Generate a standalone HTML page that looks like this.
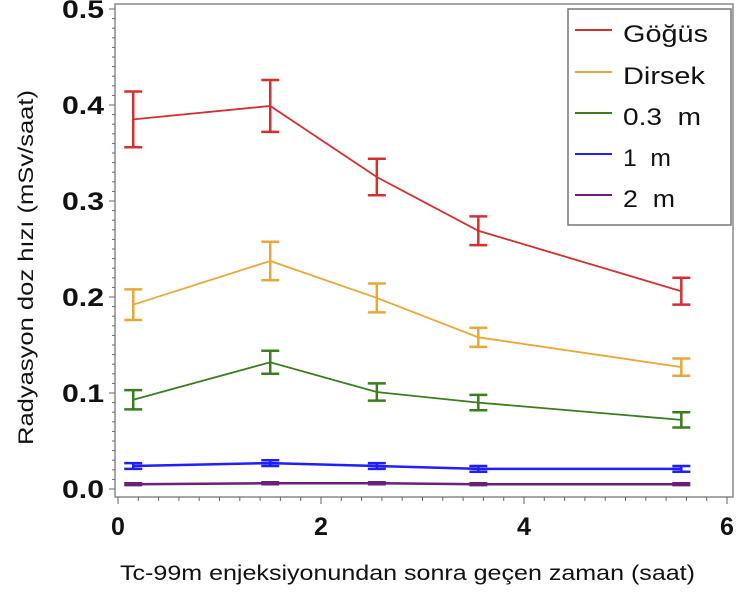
<!DOCTYPE html>
<html><head><meta charset="utf-8"><style>
html,body{margin:0;padding:0;background:#fff;}
svg{display:block;font-family:"Liberation Sans",sans-serif;}
</style></head><body>
<svg id="chart" width="740" height="595" viewBox="0 0 740 595">
</svg>
<script>
const xs = [0.15, 1.5, 2.55, 3.55, 5.55];
const seriesNames = ["Göğüs","Dirsek","0.3 m","1 m","2 m"];
const seriesColors = ["#d62f2f","#e8a838","#3a7d1e","#1e1eff","#6a1f7a"];
const gogus = [0.385, 0.399, 0.325, 0.269, 0.206];
const gogusErr = [0.029, 0.027, 0.019, 0.015, 0.014];
const dirsek = [0.192, 0.2375, 0.199, 0.158, 0.127];
const dirsekErr = [0.016, 0.02, 0.015, 0.01, 0.009];
const m03 = [0.093, 0.132, 0.101, 0.09, 0.072];
const m03Err = [0.01, 0.012, 0.009, 0.008, 0.008];
const m1 = [0.024, 0.027, 0.024, 0.021, 0.021];
const m1Err = [0.003, 0.003, 0.003, 0.003, 0.003];
const m2 = [0.005, 0.006, 0.006, 0.005, 0.005];
const m2Err = [0.001, 0.001, 0.001, 0.001, 0.001];
const yTicks = [0.0, 0.1, 0.2, 0.3, 0.4, 0.5];
const yTickLabels = ["0.0","0.1","0.2","0.3","0.4","0.5"];
const xTicks = [0, 2, 4, 6];
const xTickLabels = ["0","2","4","6"];

const svg = document.getElementById('chart');
const NS = 'http://www.w3.org/2000/svg';
const X = v => 118 + v * 101.5;
const Y = v => 489 - v * 960;
function mk(tag, attrs, parent){ const e=document.createElementNS(NS,tag); for(const k in attrs) e.setAttribute(k,attrs[k]); (parent||svg).appendChild(e); return e; }

const frame = mk('rect',{x:115,y:4,width:618,height:493,fill:'none',stroke:'#888','stroke-width':1.5});



for(let i=0;i<=50;i++){ const v=i*0.01; const big=i%10===0;
  const t=mk('line',{x1:big?109:112,x2:115,y1:Y(v),y2:Y(v),stroke:'#666','stroke-width':1});
  
  
}
yTicks.forEach((v,i)=>{ const t=mk('text',{x:104,y:Y(v)+9,'text-anchor':'end','font-size':25,'font-weight':'bold',fill:'#111',textLength:42,lengthAdjust:'spacingAndGlyphs'}); t.textContent=yTickLabels[i];
  
  
});
for(let i=0;i<=30;i++){ const v=i*0.2; const big=i%10===0;
  const t=mk('line',{x1:X(v),x2:X(v),y1:497,y2:big?504:501,stroke:'#666','stroke-width':1});
  
  
}
xTicks.forEach((v,i)=>{ const t=mk('text',{x:X(v),y:535,'text-anchor':'middle','font-size':25,'font-weight':'bold',fill:'#111'}); t.textContent=xTickLabels[i];
  
  
});
const xt=mk('text',{x:120,y:580,'font-size':21,fill:'#111',textLength:575,lengthAdjust:'spacingAndGlyphs'}); xt.textContent='Tc-99m enjeksiyonundan sonra geçen zaman (saat)';


const yt=mk('text',{x:0,y:0,'font-size':21,fill:'#111',textLength:355,lengthAdjust:'spacingAndGlyphs',transform:'translate(33,445) rotate(-90)'}); yt.textContent='Radyasyon doz hızı (mSv/saat)';



const allVals=[gogus,dirsek,m03,m1,m2], allErr=[gogusErr,dirsekErr,m03Err,m1Err,m2Err];
allVals.forEach((vals,s)=>{
  const g=mk('g',{});
  
  
  const c=seriesColors[s];
  const pl=mk('polyline',{points:xs.map((x,i)=>X(x)+','+Y(vals[i])).join(' '),fill:'none',stroke:c,'stroke-width':s>=3?2.5:1.8},g);
  
  
  xs.forEach((x,i)=>{ const e=allErr[s][i], cx=X(x), y1=Y(vals[i]+e), y2=Y(vals[i]-e);
    const eb=mk('path',{d:`M${cx},${y1}V${y2}M${cx-9},${y1}H${cx+9}M${cx-9},${y2}H${cx+9}`,stroke:c,'stroke-width':2.5,fill:'none'},g);
    
    
  });
});

const lg=mk('g',{});


mk('rect',{x:568,y:9,width:163,height:216,fill:'#fff',stroke:'#777','stroke-width':1.5},lg);
const ly=[34,76,117,158,199];
const lw=[85,82,78,48,52];
seriesNames.forEach((n,i)=>{
  const l=mk('line',{x1:575,x2:612,y1:ly[i]-4,y2:ly[i]-4,stroke:seriesColors[i],'stroke-width':2},lg);
  
  
  const t=mk('text',{x:623,y:ly[i]+8,'font-size':24,fill:'#111',textLength:lw[i],lengthAdjust:'spacingAndGlyphs'},lg); t.textContent=n.replace(' ','\u00a0 ');
  
  
});
</script>
</body></html>
